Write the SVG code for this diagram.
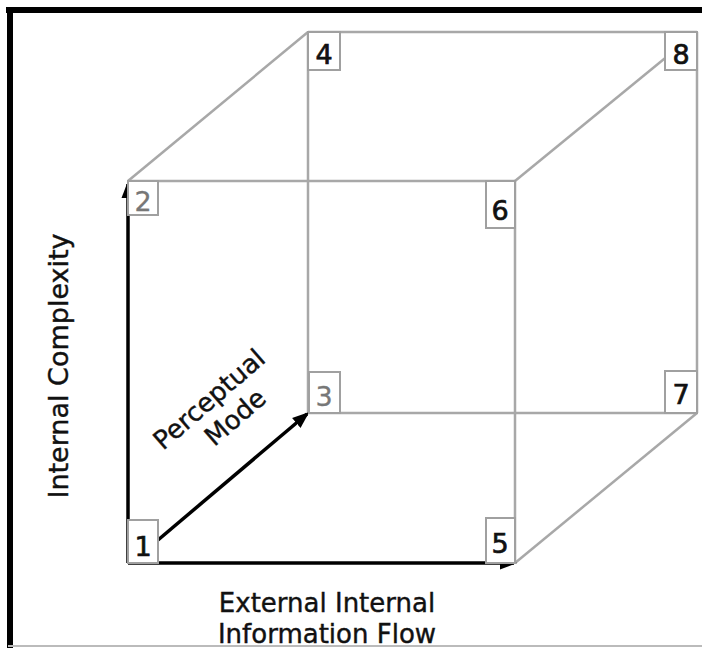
<svg xmlns="http://www.w3.org/2000/svg" width="702" height="650" viewBox="0 0 702 650">
<style>
.edge{stroke:#a8a8a8;stroke-width:2.5;fill:none}
.box{stroke:#a0a0a0;stroke-width:2;fill:#fff}
.num{font-family:"DejaVu Sans",sans-serif;font-size:27px;fill:#111;stroke:#111;stroke-width:0.7;text-anchor:middle}
.numg{fill:#777;stroke:#777;stroke-width:0.3}
.lbl{font-family:"DejaVu Sans",sans-serif;font-size:26px;fill:#111;stroke:#111;stroke-width:0.4;text-anchor:middle}
.ax{stroke:#000;stroke-width:3.5;fill:none}
</style>
<defs>
<marker id="ah" markerWidth="18" markerHeight="14" refX="14" refY="7" orient="auto" markerUnits="userSpaceOnUse">
<path d="M0,0.5 L17,7 L0,13.5 Z" fill="#000"/>
</marker>
</defs>
<rect x="0" y="0" width="702" height="650" fill="#fff"/>
<g id="frame">
<line x1="6" y1="10" x2="702" y2="10" stroke="#000" stroke-width="6"/>
<line x1="10" y1="8" x2="10" y2="648" stroke="#000" stroke-width="6"/>
<line x1="8" y1="646" x2="702" y2="646" stroke="#bbb" stroke-width="2"/>
</g>
<g id="connectors">
<line class="edge" x1="308" y1="32" x2="697" y2="32"/>
<line class="edge" x1="308" y1="32" x2="308" y2="413"/>
<line class="edge" x1="308" y1="413" x2="697" y2="413"/>
<line class="edge" x1="697" y1="32" x2="697" y2="413"/>
<line class="edge" x1="128" y1="181" x2="308" y2="32"/>
<line class="edge" x1="515" y1="181" x2="697" y2="32"/>
<line class="edge" x1="515" y1="563" x2="697" y2="413"/>
<line class="edge" x1="128" y1="181" x2="515" y2="181"/>
<line class="edge" x1="515" y1="181" x2="515" y2="563"/>
<line class="ax" x1="128" y1="563" x2="128" y2="184" marker-end="url(#ah)"/>
<line class="ax" x1="128" y1="563" x2="514" y2="563" marker-end="url(#ah)"/>
<line class="ax" x1="158" y1="540" x2="307" y2="414" marker-end="url(#ah)"/>
</g>
<g id="n1"><rect class="box" x="128" y="520" width="30" height="43"/><text class="num" x="143" y="556">1</text></g>
<g id="n2"><rect class="box" x="128" y="181" width="30" height="34"/><text class="num numg" x="143" y="211">2</text></g>
<g id="n3"><rect class="box" x="309" y="372" width="31" height="41"/><text class="num numg" x="324" y="406">3</text></g>
<g id="n4"><rect class="box" x="308" y="32" width="32" height="38"/><text class="num" x="324" y="64">4</text></g>
<g id="n5"><rect class="box" x="486" y="518" width="29" height="45"/><text class="num" x="500" y="553">5</text></g>
<g id="n6"><rect class="box" x="486" y="181" width="29" height="47"/><text class="num" x="500" y="220">6</text></g>
<g id="n7"><rect class="box" x="665" y="371" width="32" height="42"/><text class="num" x="681" y="404">7</text></g>
<g id="n8"><rect class="box" x="665" y="32" width="32" height="38"/><text class="num" x="681" y="64">8</text></g>
<g id="labels">
<text class="lbl" transform="translate(68,366) rotate(-90)" style="font-size:27px">Internal Complexity</text>
<text class="lbl" x="327" y="612">External Internal</text>
<text class="lbl" x="327" y="643">Information Flow</text>
<text class="lbl" transform="translate(215,406) rotate(-41)">Perceptual</text>
<text class="lbl" transform="translate(241,424) rotate(-41)">Mode</text>
</g>
</svg>
